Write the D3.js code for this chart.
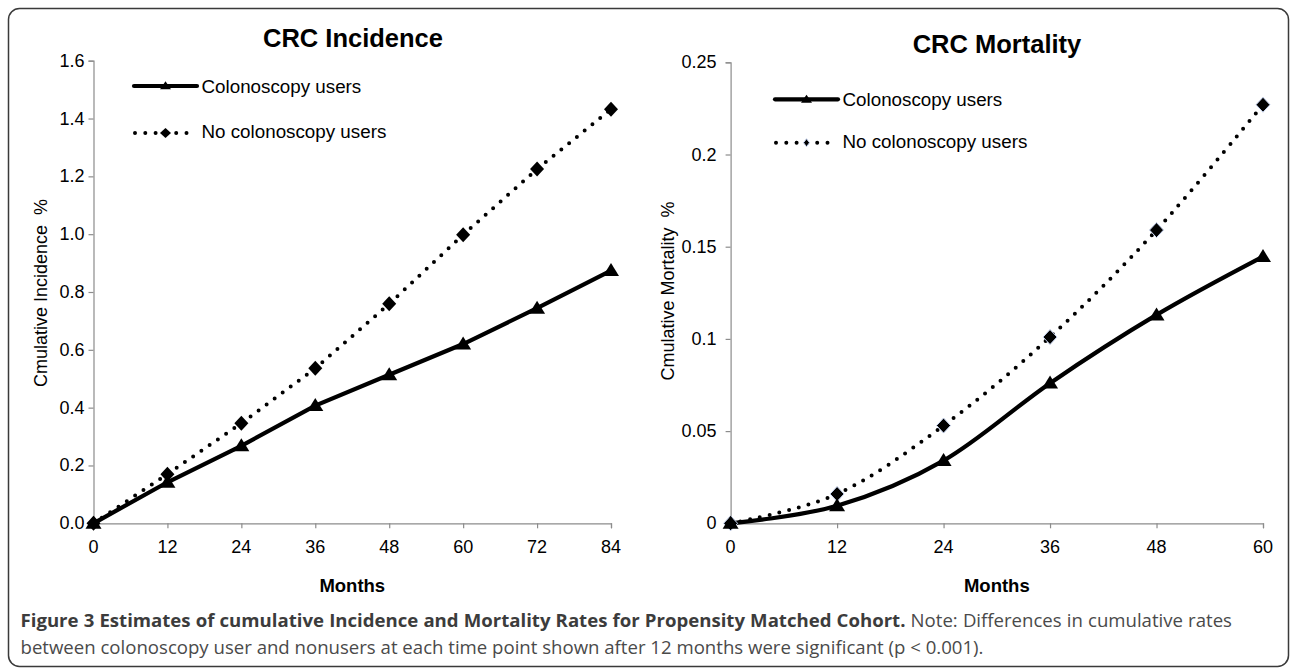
<!DOCTYPE html>
<html>
<head>
<meta charset="utf-8">
<script src="https://cdn.jsdelivr.net/npm/d3@7"></script>
<style>
  html, body { margin: 0; padding: 0; background: #fff; }
  svg { display: block; }
  text { white-space: pre; }
</style>
</head>
<body>
<svg id="chart" width="1290" height="668"></svg>
<script>
// ---------- DATA ----------
const monthsIncidence = [0, 12, 24, 36, 48, 60, 72, 84];
const incidenceUsers = [0, 0.142, 0.268, 0.407, 0.514, 0.62, 0.744, 0.874];
const incidenceNonUsers = [0, 0.17, 0.346, 0.536, 0.759, 0.998, 1.225, 1.432];
const incidenceYTicks = [0, 0.2, 0.4, 0.6, 0.8, 1.0, 1.2, 1.4, 1.6];

const monthsMortality = [0, 12, 24, 36, 48, 60];
const mortalityUsers = [0, 0.0095, 0.034, 0.076, 0.113, 0.1446];
const mortalityNonUsers = [0, 0.0159, 0.053, 0.101, 0.159, 0.227];
const mortalityYTicks = [0, 0.05, 0.1, 0.15, 0.2, 0.25];

const seriesNames = ["Colonoscopy users", "No colonoscopy users"];
const titles = ["CRC Incidence", "CRC Mortality"];
const yLabels = ["Cmulative Incidence  %", "Cmulative Mortality  %"];
const xLabel = "Months";
const captionBold = "Figure 3 Estimates of cumulative Incidence and Mortality Rates for Propensity Matched Cohort.";
const captionRest1 = " Note: Differences in cumulative rates";
const captionLine2 = "between colonoscopy user and nonusers at each time point shown after 12 months were significant (p < 0.001).";

// ---------- SETUP ----------
const svg = d3.select("#chart");
const FONT = "Liberation Sans, Arial, Helvetica, sans-serif";

svg.append("rect")
  .attr("x", 8.5).attr("y", 8.5)
  .attr("width", 1280).attr("height", 658)
  .attr("rx", 11).attr("ry", 11)
  .attr("fill", "none").attr("stroke", "#3a3a3a").attr("stroke-width", 1.5);

function ctext(parent, x, y, str, opts) {
  opts = opts || {};
  const g = parent.append("g")
    .attr("transform", `translate(${x},${y})` + (opts.rotate ? ` rotate(${opts.rotate})` : ""));
  return g.append("text")
    .attr("x", 0).attr("y", 0)
    .attr("xml:space", "preserve")
    .attr("font-family", FONT)
    .attr("font-size", opts.size || 18)
    .attr("font-weight", opts.bold ? "bold" : "normal")
    .attr("text-anchor", opts.anchor || "start")
    .attr("fill", opts.fill || "#000")
    .text(str);
}

const triPath = (w, h) => `M0,${-h*0.58}L${w/2},${h*0.42}L${-w/2},${h*0.42}Z`;
const diaPath = (w, h) => `M0,${-h/2}L${w/2},0L0,${h/2}L${-w/2},0Z`;

function drawPanel(cfg) {
  const g = svg.append("g");
  const x = d3.scaleLinear().domain(cfg.xDomain).range(cfg.xRange);
  const y = d3.scaleLinear().domain(cfg.yDomain).range(cfg.yRange);

  // axes
  const yAxis = g.append("g")
    .attr("transform", `translate(${cfg.xRange[0]},0)`)
    .call(d3.axisLeft(y).tickValues(cfg.yTicks).tickSize(5).tickFormat(() => ""));
  const xAxis = g.append("g")
    .attr("transform", `translate(0,${cfg.yRange[0]})`)
    .call(d3.axisBottom(x).tickValues(cfg.months).tickSize(5).tickFormat(() => ""));
  [yAxis, xAxis].forEach(a => {
    a.select(".domain").attr("stroke", "#8c8c8c").attr("stroke-width", 1.2);
    a.selectAll(".tick line").attr("stroke", "#8c8c8c").attr("stroke-width", 1.2);
  });
  // tick labels
  cfg.yTicks.forEach(t => ctext(g, cfg.xRange[0] - cfg.yTickGap, y(t) + 6, cfg.yFormat(t), {anchor: "end", size: 18}));
  cfg.months.forEach(m => ctext(g, x(m), cfg.yRange[0] + 30, String(m), {anchor: "middle", size: 18}));

  // titles & labels
  ctext(g, cfg.titleX, cfg.titleY, cfg.title, {anchor: "middle", size: 25.5, bold: true});
  ctext(g, (cfg.xRange[0] + cfg.xRange[1]) / 2, 592, xLabel, {anchor: "middle", size: 18.5, bold: true});
  ctext(g, cfg.yLabelX, cfg.yLabelCenter, cfg.yLabel, {anchor: "middle", size: 18, rotate: -90});

  const line = d3.line().x(d => x(d[0])).y(d => y(d[1])).curve(cfg.curve);
  const users = cfg.months.map((m, i) => [m, cfg.users[i]]);
  const non = cfg.months.map((m, i) => [m, cfg.nonUsers[i]]);

  g.append("path").datum(non).attr("d", line)
    .attr("fill", "none").attr("stroke", "#000").attr("stroke-width", 4)
    .attr("stroke-linecap", "round").attr("stroke-dasharray", "0 10");
  g.append("path").datum(users).attr("d", line)
    .attr("fill", "none").attr("stroke", "#000").attr("stroke-width", 4.2);

  g.selectAll(".dia").data(non).join("path")
    .attr("transform", d => `translate(${x(d[0])},${y(d[1])})`)
    .attr("d", diaPath(14, 15)).attr("fill", "#000")
    .attr("stroke", cfg.diaStroke).attr("stroke-width", 1);
  g.selectAll(".tri").data(users).join("path")
    .attr("transform", d => `translate(${x(d[0])},${y(d[1])})`)
    .attr("d", triPath(16, 13)).attr("fill", "#000");

  // legend
  const L = cfg.legend;
  const mid = (L.x1 + L.x2) / 2;
  g.append("line").attr("x1", L.x1).attr("x2", L.x2).attr("y1", L.y1).attr("y2", L.y1)
    .attr("stroke", "#000").attr("stroke-width", 4.2).attr("stroke-linecap", "round");
  g.append("path").attr("transform", `translate(${mid},${L.y1})`)
    .attr("d", triPath(11, 8)).attr("fill", "#000");
  g.append("line").attr("x1", L.x1 + 1).attr("x2", L.x2 - 4).attr("y1", L.y2).attr("y2", L.y2)
    .attr("stroke", "#000").attr("stroke-width", 4).attr("stroke-linecap", "round")
    .attr("stroke-dasharray", "0 10.3");
  g.append("path").attr("transform", `translate(${mid},${L.y2})`)
    .attr("d", diaPath(L.diaW, L.diaH)).attr("fill", "#000")
    .attr("stroke", cfg.diaStroke).attr("stroke-width", 1);
  ctext(g, L.tx, L.y1 + 6.5, seriesNames[0], {size: 18.8});
  ctext(g, L.tx, L.y2 + 5, seriesNames[1], {size: 18.8});
}

drawPanel({
  xDomain: [0, 84], xRange: [93.5, 611],
  yDomain: [0, 1.6], yRange: [523.3, 60.7],
  months: monthsIncidence, users: incidenceUsers, nonUsers: incidenceNonUsers,
  yTicks: incidenceYTicks, yFormat: d3.format(".1f"), yTickGap: 9,
  title: titles[0], titleX: 353, titleY: 46.5,
  yLabel: yLabels[0], yLabelX: 46.5, yLabelCenter: 293,
  curve: d3.curveLinear, diaStroke: "none",
  legend: {x1: 134, x2: 197, y1: 86, y2: 133, tx: 201.5, diaW: 11, diaH: 10}
});

drawPanel({
  xDomain: [0, 60], xRange: [730.6, 1263],
  yDomain: [0, 0.25], yRange: [523.3, 62.3],
  months: monthsMortality, users: mortalityUsers, nonUsers: mortalityNonUsers,
  yTicks: mortalityYTicks, yFormat: d => d === 0 ? "0" : String(+d.toFixed(2)), yTickGap: 14,
  title: titles[1], titleX: 997, titleY: 53,
  yLabel: yLabels[1], yLabelX: 674, yLabelCenter: 291,
  curve: d3.curveCatmullRom.alpha(0), diaStroke: "#c9d6f2",
  legend: {x1: 775, x2: 838, y1: 99.3, y2: 142.7, tx: 842.5, diaW: 6, diaH: 8}
});

// caption
const CAP_LEFT = 20.5, CAP_RIGHT = 1232;
const cap = svg.append("g").attr("font-family", "Open Sans, Noto Sans, sans-serif").attr("font-size", 18.6);
const t1 = cap.append("text").attr("x", CAP_LEFT).attr("y", 626.5).attr("fill", "#3c3c3c")
  .attr("xml:space", "preserve");
t1.append("tspan").attr("font-weight", "bold").text(captionBold);
t1.append("tspan").attr("fill", "#4a4a4a").text(captionRest1);
// justify first line across all of its spaces
const wTotal = t1.node().getComputedTextLength();
const nSp = (captionBold + captionRest1).split(" ").length - 1;
t1.attr("word-spacing", ((CAP_RIGHT - CAP_LEFT) - wTotal) / nSp);
cap.append("text").attr("x", CAP_LEFT).attr("y", 654).attr("fill", "#4a4a4a").text(captionLine2);
</script>
</body>
</html>
